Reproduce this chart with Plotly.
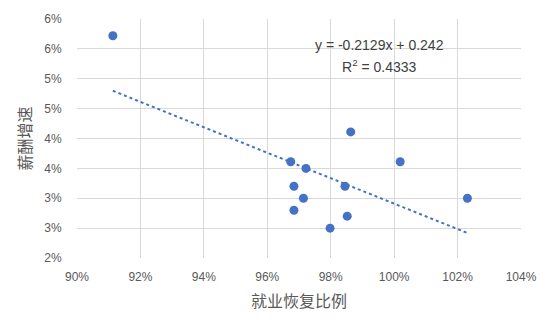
import plotly.graph_objects as go

# Employment recovery ratio vs. wage growth
recovery = [0.9113, 0.9674, 0.9722, 0.9684, 0.9714, 0.9684, 0.9845, 0.9852, 0.9798, 0.9863, 1.0019, 1.0231]
wage_growth = [0.0572, 0.0361, 0.0350, 0.0320, 0.0300, 0.0280, 0.0320, 0.0270, 0.0250, 0.0411, 0.0361, 0.0300]

# Linear trend coefficients shown in the label
slope = -0.2129
intercept = 0.242
r_squared = 0.4333

x_ticks = [0.90, 0.92, 0.94, 0.96, 0.98, 1.00, 1.02, 1.04]
x_tick_labels = ["90%", "92%", "94%", "96%", "98%", "100%", "102%", "104%"]
y_ticks = [0.02, 0.025, 0.03, 0.035, 0.04, 0.045, 0.05, 0.055, 0.06]
y_tick_labels = ["2%", "3%", "3%", "4%", "4%", "5%", "5%", "6%", "6%"]

blue = "#4472C4"
grid = "#d9d9d9"
text_color = "#595959"
cjk = "Noto Sans CJK SC"
latin = "Liberation Sans"

trend_x = [min(recovery), max(recovery)]
trend_y = [slope * v + intercept for v in trend_x]

fig = go.Figure()
fig.add_trace(go.Scatter(
    x=trend_x, y=trend_y, mode="lines",
    line=dict(color=blue, width=2, dash="dot"),
    hoverinfo="skip", showlegend=False,
))
fig.add_trace(go.Scatter(
    x=recovery, y=wage_growth, mode="markers",
    marker=dict(color=blue, size=9),
    showlegend=False,
))

sign = "-" if slope < 0 else ""
fig.add_annotation(
    x=0.9955, y=0.0556, xref="x", yref="y",
    text=f"y = {sign}{abs(slope):.4f}x + {intercept:g}",
    showarrow=False, font=dict(family=latin, size=14, color="#404040"),
)
fig.add_annotation(
    x=0.9955, y=0.0521, xref="x", yref="y",
    text=f"R<sup>2</sup> = {r_squared:.4f}",
    showarrow=False, font=dict(family=latin, size=14, color="#404040"),
)

fig.update_layout(
    width=554, height=332,
    margin=dict(l=77, r=33, t=17, b=74),
    paper_bgcolor="white", plot_bgcolor="white",
    font=dict(family=latin, color=text_color, size=12),
    xaxis=dict(
        range=[0.90, 1.04], tickvals=x_ticks, ticktext=x_tick_labels,
        showgrid=True, gridcolor=grid, gridwidth=1, zeroline=False,
        showline=False, ticks="outside", ticklen=8, tickcolor="rgba(0,0,0,0)",
        tickfont=dict(size=12, color=text_color),
        title=dict(text="就业恢复比例", font=dict(family=cjk, size=16, color=text_color), standoff=12),
    ),
    yaxis=dict(
        range=[0.02, 0.06], tickvals=y_ticks, ticktext=y_tick_labels,
        showgrid=True, gridcolor=grid, gridwidth=1, zeroline=False,
        showline=False, ticks="outside", ticklen=12, tickcolor="rgba(0,0,0,0)",
        tickfont=dict(size=12, color=text_color),
        title=dict(text="薪酬增速", font=dict(family=cjk, size=16, color=text_color), standoff=8),
    ),
)

fig.write_html("out.html")
